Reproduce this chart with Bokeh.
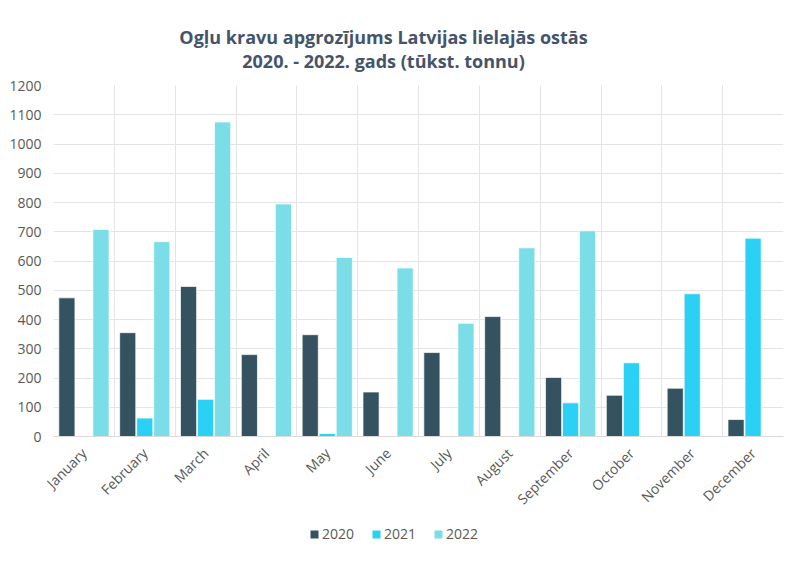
from bokeh.plotting import figure
from bokeh.models import (Range1d, FixedTicker, Legend, LegendItem, Label, ColumnDataSource)
from bokeh.layouts import column
from bokeh.embed import file_html
from bokeh.resources import INLINE
import math

months = ["January", "February", "March", "April", "May", "June", "July",
          "August", "September", "October", "November", "December"]
series_names = ["2020", "2021", "2022"]
v2020 = [474, 355, 513, 280, 348, 152, 287, 410, 202, 141, 165, 58]
v2021 = [2, 63, 127, 0, 10, 0, 0, 0, 115, 252, 488, 678]
v2022 = [708, 666, 1075, 795, 612, 576, 387, 645, 703, 0, 0, 0]
colors = ["#34525F", "#2BD0F5", "#7ADDE8"]
y_ticks = list(range(0, 1300, 100))
title_lines = ["Ogļu kravu apgrozījums Latvijas lielajās ostās",
               "2020. - 2022. gads (tūkst. tonnu)"]

FONT = "Open Sans"
TXT = "#595959"
W = 784
FL, FR = 53, 783   # frame left/right in page pixels (frames are aligned by the column)

# ---- title strip ----
top = figure(width=W, height=77, output_backend="svg", toolbar_location=None,
             x_range=Range1d(FL, FR), y_range=Range1d(0, 77),
             x_axis_type=None, y_axis_type=None, min_border=0)
top.grid.visible = False
top.outline_line_color = None
top.title = None
for txt, yy in zip(title_lines, [41, 17]):
    top.add_layout(Label(x=383, y=yy, text=txt, text_align="center", text_baseline="middle",
                         text_font=FONT, text_font_size="18px", text_font_style="bold",
                         text_color="#44546A"))

# ---- main chart ----
p = figure(frame_width=FR - FL, frame_height=351, output_backend="svg", toolbar_location=None,
           x_range=Range1d(0, len(months)), y_range=Range1d(0, 1200),
           min_border_left=FL, min_border_right=W - FR, min_border_top=8, min_border_bottom=0)
p.title = None
p.outline_line_color = None

centers = [i + 0.5 for i in range(len(months))]
width = 0.265
offsets = [-0.28, 0.0, 0.28]
for vals, off, col in zip([v2020, v2021, v2022], offsets, colors):
    src = ColumnDataSource(dict(x=[c + off for c in centers], top=vals))
    p.vbar(x="x", top="top", width=width, source=src, fill_color=col,
           line_color="white", line_alpha=0.7, line_width=1)

p.xaxis.ticker = FixedTicker(ticks=centers)
p.xaxis.major_label_overrides = {c: m for c, m in zip(centers, months)}
p.xaxis.major_label_orientation = math.pi / 4
p.xaxis.major_tick_line_color = None
p.xaxis.minor_tick_line_color = None
p.xaxis.axis_line_color = "#d9d9d9"
p.xaxis.major_label_text_font = FONT
p.xaxis.major_label_text_font_size = "14px"
p.xaxis.major_label_text_color = TXT
p.xaxis.major_label_standoff = 8

p.yaxis.ticker = FixedTicker(ticks=y_ticks)
p.yaxis.axis_line_color = None
p.yaxis.major_tick_line_color = None
p.yaxis.minor_tick_line_color = None
p.yaxis.major_label_text_font = FONT
p.yaxis.major_label_text_font_size = "14px"
p.yaxis.major_label_text_color = TXT
p.yaxis.major_label_standoff = 6

p.xgrid.ticker = FixedTicker(ticks=list(range(len(months) + 1)))
p.xgrid.grid_line_color = "#e3e3e8"
p.ygrid.grid_line_color = "#e3e3e8"

# ---- legend strip ----
leg = figure(width=W, height=30, output_backend="svg", toolbar_location=None,
             x_range=Range1d(0, 1), y_range=Range1d(0, 1),
             x_axis_type=None, y_axis_type=None, min_border=0)
leg.grid.visible = False
leg.outline_line_color = None
leg.title = None
rs = []
for col in colors:
    dummy = ColumnDataSource(dict(x=[0.5], top=[0]))
    rs.append(leg.vbar(x="x", top="top", width=0.01, source=dummy, fill_color=col,
                       line_color=None))
legend = Legend(items=[LegendItem(label=n, renderers=[r]) for n, r in zip(series_names, rs)],
                orientation="horizontal", location=(309 - FL, 4),
                label_text_font=FONT, label_text_font_size="14px", label_text_color=TXT,
                glyph_width=10, glyph_height=10, spacing=17, label_standoff=3,
                label_height=18, border_line_color=None, background_fill_alpha=0,
                margin=0, padding=4)
leg.add_layout(legend, "center")

layout = column(top, p, leg, spacing=0)
open("out.html", "w").write(file_html(layout, INLINE))
